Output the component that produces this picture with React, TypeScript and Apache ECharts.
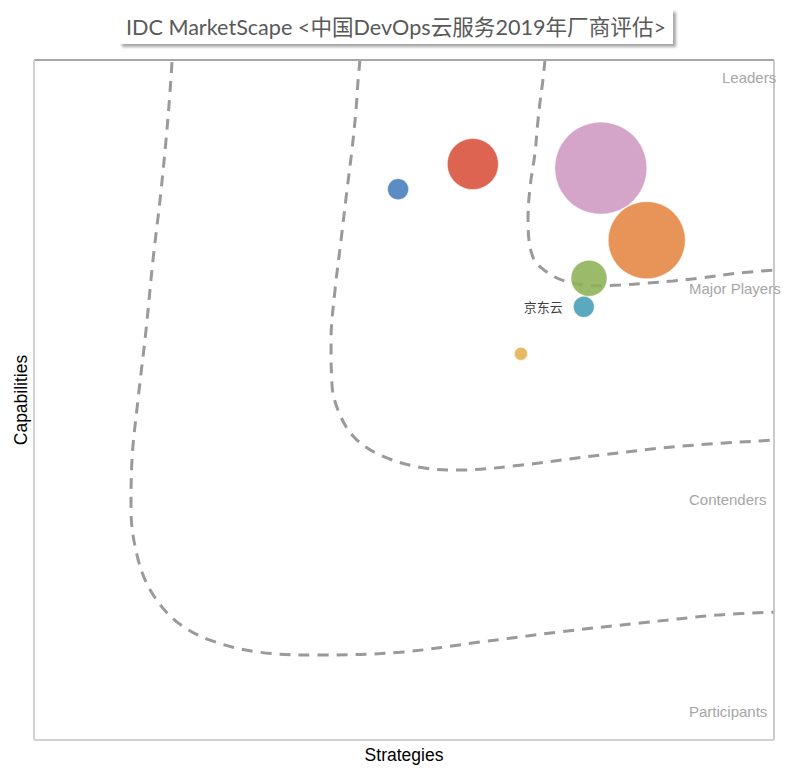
import React, { useEffect, useRef } from "react";
import * as echarts from "echarts";

// Chart title and axis names
const titleText = "IDC MarketScape <中国DevOps云服务2019年厂商评估>";
const xAxisName = "Strategies";
const yAxisName = "Capabilities";

// Zone labels
const zoneLabels = ["Leaders", "Major Players", "Contenders", "Participants"];

// Vendors (x = strategies, y = capabilities, size = bubble diameter)
const vendorLabels = ["", "", "", "", "", "京东云", ""];
const vendorX = [49.2, 59.3, 76.6, 82.8, 75.0, 74.3, 65.8];
const vendorY = [81.0, 84.7, 84.1, 73.5, 67.9, 63.7, 56.8];
const vendorSize = [21, 51, 92, 77, 36, 21, 13];
const vendorColors = ["#457cbc", "#d74f38", "#ce99c2", "#e58441", "#8eb255", "#459cb6", "#e4b24d"];

// Dashed zone boundaries [x, y]
const boundaryParticipants: number[][] = [
  [18.65, 99.7], [18.38, 95.3], [17.84, 88.2], [17.03, 79.4], [16.08, 70.6], [15.14, 60.3],
  [14.05, 50.0], [13.24, 41.2], [13.11, 33.8], [13.92, 27.2], [15.68, 22.1], [19.05, 17.6],
  [23.78, 14.7], [30.54, 12.9], [38.65, 12.5], [49.46, 12.9], [60.27, 14.4], [71.08, 15.9],
  [81.89, 17.2], [92.7, 18.4], [100, 18.8],
];
const boundaryContenders: number[][] = [
  [44.05, 100], [43.78, 96.8], [43.51, 92.6], [42.97, 86.8], [42.3, 80.9], [41.49, 73.5],
  [40.68, 66.2], [40.14, 58.8], [40.27, 52.2], [41.35, 47.8], [43.38, 44.4], [46.76, 41.9],
  [52.16, 40.1], [57.57, 39.7], [65.68, 40.4], [76.49, 41.9], [87.3, 43.2], [100, 44.1],
];
const boundaryMajor: number[][] = [
  [69.05, 100], [68.78, 97.1], [68.38, 93.8], [68.11, 91.2], [67.7, 86.3], [67.03, 81.3],
  [66.76, 76.5], [67.43, 71.0], [69.46, 68.7], [72.03, 67.4], [75.54, 66.8], [79.19, 66.9],
  [82.84, 67.2], [86.35, 67.5], [89.73, 67.9], [95.41, 68.7], [100, 69.1],
];

const latin = '"Liberation Sans", Arial, sans-serif';

function boundarySeries(data: number[][]) {
  return {
    type: "line",
    data,
    smooth: 0.35,
    symbol: "none",
    silent: true,
    z: 1,
    lineStyle: { color: "#9a9a9a", width: 3, type: [11, 8] },
  };
}

export default function App() {
  const ref = useRef<HTMLDivElement>(null);
  useEffect(() => {
    const chart = echarts.init(ref.current!, null, { renderer: "svg" });
    const vendorData = vendorX.map((x, i) => ({
      value: [x, vendorY[i], vendorSize[i]],
      name: vendorLabels[i],
      itemStyle: { color: vendorColors[i] },
      label: { show: vendorLabels[i] !== "" },
    }));
    const option = {
      animation: false,
      backgroundColor: "#ffffff",
      grid: { left: 34, right: 19, top: 60, bottom: 31, show: false },
      xAxis: {
        type: "value",
        min: 0,
        max: 100,
        name: xAxisName,
        nameLocation: "middle",
        nameGap: 6,
        nameTextStyle: { fontSize: 17.5, color: "#000", fontFamily: latin, verticalAlign: "top" },
        axisLine: { show: false },
        axisTick: { show: false },
        axisLabel: { show: false },
        splitLine: { show: false },
      },
      yAxis: {
        type: "value",
        min: 0,
        max: 100,
        name: yAxisName,
        nameLocation: "middle",
        nameGap: 4,
        nameTextStyle: { fontSize: 17.5, color: "#000", fontFamily: latin },
        axisLine: { show: false },
        axisTick: { show: false },
        axisLabel: { show: false },
        splitLine: { show: false },
      },
      graphic: [
        {
          type: "rect",
          shape: { x: 119, y: 9, width: 554, height: 35 },
          style: {
            fill: "#ffffff",
            shadowBlur: 3,
            shadowOffsetX: 3,
            shadowOffsetY: 3,
            shadowColor: "rgba(0,0,0,0.35)",
          },
          z: 10,
        },
        {
          type: "text",
          x: 396,
          y: 27,
          z: 11,
          style: {
            text: titleText,
            fontSize: 21.6,
            fontFamily: 'Lato, "Noto Sans CJK SC", sans-serif',
            fill: "#595959",
            align: "center",
            verticalAlign: "middle",
          },
        },
        { type: "line", shape: { x1: 34, y1: 60, x2: 774, y2: 60 }, style: { stroke: "#a8a8a8", lineWidth: 2 }, z: 5 },
        { type: "line", shape: { x1: 774, y1: 60, x2: 774, y2: 740 }, style: { stroke: "#b8b8b8", lineWidth: 1.5 }, z: 5 },
        { type: "line", shape: { x1: 34, y1: 740, x2: 774, y2: 740 }, style: { stroke: "#d2d2d2", lineWidth: 2 }, z: 5 },
        { type: "line", shape: { x1: 34, y1: 60, x2: 34, y2: 740 }, style: { stroke: "#d2d2d2", lineWidth: 2 }, z: 5 },
        ...[
          [722, 77],
          [689, 288],
          [689, 499],
          [689, 711],
        ].map((p, i) => ({
          type: "text",
          x: p[0],
          y: p[1],
          z: 6,
          style: {
            text: zoneLabels[i],
            fontSize: 15,
            fontFamily: latin,
            fill: "#a6a6a6",
            align: "left",
            verticalAlign: "middle",
          },
        })),
      ],
      series: [
        boundarySeries(boundaryParticipants),
        boundarySeries(boundaryContenders),
        boundarySeries(boundaryMajor),
        {
          type: "scatter",
          z: 3,
          data: vendorData,
          symbolSize: (v: number[]) => v[2],
          itemStyle: { opacity: 0.88, borderColor: "rgba(255,255,255,0.5)", borderWidth: 1 },
          label: {
            position: "left",
            distance: 10,
            formatter: "{b}",
            fontSize: 13,
            color: "#222",
            fontFamily: '"Noto Sans CJK SC", sans-serif',
          },
        },
      ],
    };
    chart.setOption(option as any);
    return () => chart.dispose();
  }, []);
  return <div ref={ref} style={{ position: "absolute", left: 0, top: 0, width: 793, height: 771 }} />;
}
